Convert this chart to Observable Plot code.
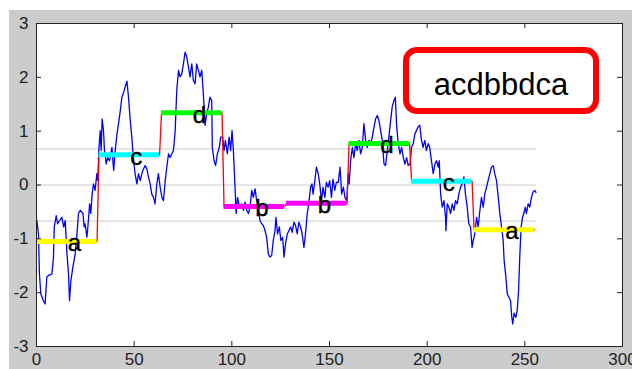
<!DOCTYPE html>
<html>
<head>
<meta charset="utf-8">
<script src="https://cdn.jsdelivr.net/npm/d3@7"></script>
<script src="https://cdn.jsdelivr.net/npm/@observablehq/plot@0.6"></script>
<style>
  html, body { margin: 0; padding: 0; background: white; }
  #wrap { position: relative; width: 632px; height: 369px; overflow: hidden; font-family: "Liberation Sans", Arial, sans-serif; }
  #bg { position: absolute; left: 9px; top: 10px; right: 0; bottom: 0; background: #cccccc; }
  #chart { position: absolute; left: 0; top: 0; }
  #word { position: absolute; left: 403px; top: 47px; width: 196px; height: 67px; box-sizing: border-box;
          border: 6px solid #ff0000; border-radius: 14px; background: white; text-align: center;
          font-size: 31px; padding-top: 8px; line-height: 47px; color: #000; }
</style>
</head>
<body>
<div id="wrap">
  <div id="bg"></div>
  <div id="chart"></div>
  <div id="word"></div>
</div>
<script>
// ---- data ----
const letters = ["a", "c", "d", "b", "b", "d", "c", "a"];
const paaValues = [-1.05, 0.56, 1.34, -0.40, -0.34, 0.77, 0.07, -0.83];
const segmentLength = 32;
const breakpoints = [-0.67, 0, 0.67];
const xTicks = [0, 50, 100, 150, 200, 250, 300];
const yTicks = [-3, -2, -1, 0, 1, 2, 3];
const wordLabel = "acdbbdca";
const seriesX = [
  0.2, 1.0, 1.5, 2.2, 3.5, 4.4, 5.3, 6.2, 7.9, 8.7, 9.1, 10.1, 10.8, 11.8, 13.0, 13.9, 14.7, 15.6, 16.4, 16.9,
  17.6, 18.6, 19.8, 20.7, 21.5, 22.4, 23.8, 24.4, 24.9, 25.8, 26.3, 27.2, 27.8, 28.5, 29.2, 30.0, 30.9, 31.4, 31.9, 32.6,
  33.1, 33.6, 34.3, 34.8, 35.7, 36.4, 37.4, 38.6, 39.5, 40.3, 41.2, 42.0, 42.9, 43.7, 44.6, 45.4, 46.3, 47.1, 48.0, 48.8,
  49.7, 50.5, 51.4, 52.2, 53.1, 54.4, 55.6, 56.5, 57.3, 58.2, 59.0, 59.9, 60.7, 61.6, 62.4, 63.3, 64.2, 65.0, 65.9, 66.7,
  67.6, 68.4, 69.3, 70.1, 71.0, 71.8, 72.7, 73.5, 74.4, 75.2, 76.1, 76.9, 77.8, 78.6, 79.5, 80.3, 81.2, 82.0, 82.9, 83.7,
  84.6, 85.4, 86.3, 87.1, 88.0, 88.8, 89.7, 90.0, 90.9, 91.7, 92.6, 93.6, 94.3, 95.3, 96.0, 96.7, 97.7, 98.6, 99.4, 100.1,
  100.8, 101.7, 102.2, 102.9, 103.9, 105.1, 105.9, 106.8, 107.6, 108.5, 109.3, 110.2, 111.0, 111.9, 112.7, 113.6, 114.4, 115.3, 116.1, 117.0,
  117.8, 118.7, 119.5, 120.4, 121.2, 122.1, 122.6, 123.4, 124.3, 125.1, 126.0, 126.7, 127.5, 128.4, 129.2, 130.1, 130.9, 131.8, 132.6, 133.5,
  134.3, 135.2, 136.0, 136.9, 137.7, 138.6, 139.4, 140.3, 141.0, 141.6, 142.5, 143.3, 144.2, 145.0, 145.9, 146.7, 147.6, 148.4, 149.3, 150.1,
  151.0, 151.8, 152.7, 153.5, 154.5, 155.4, 156.2, 157.1, 157.9, 158.8, 159.6, 160.1, 160.8, 161.7, 162.5, 163.4, 164.2, 165.1, 165.9, 166.8,
  167.6, 168.5, 169.3, 170.2, 171.1, 171.9, 172.8, 173.6, 174.5, 175.3, 176.2, 177.0, 177.9, 178.7, 179.6, 180.4, 181.3, 182.1, 183.0, 183.7,
  184.4, 185.2, 186.1, 186.9, 187.8, 188.6, 189.5, 190.3, 191.2, 192.0, 192.9, 193.7, 194.5, 195.4, 196.2, 197.1, 197.9, 198.8, 199.6, 200.5,
  201.3, 202.2, 203.1, 204.0, 204.8, 205.7, 206.2, 206.9, 207.7, 208.6, 209.4, 209.6, 210.3, 211.1, 212.0, 212.8, 213.7, 214.5, 215.4, 216.2,
  217.1, 217.9, 218.8, 219.6, 220.5, 221.3, 222.2, 223.0, 223.6, 224.4, 225.3, 226.1, 227.0, 227.8, 228.7, 229.5, 230.4, 231.2, 232.1, 232.9,
  233.8, 234.6, 235.5, 236.4, 237.2, 238.1, 238.9, 239.4, 240.3, 241.0, 241.8, 242.7, 243.3, 243.8, 244.5, 245.4, 246.1, 246.8, 247.4, 248.1,
  248.8, 249.5, 250.2, 250.8, 251.7, 252.5, 253.4, 254.2, 255.1, 255.7
];
const seriesY = [
  -0.66, -0.91, -1.65, -2.02, -2.15, -2.21, -1.71, -1.68, -1.65, -1.34, -0.78, -0.57, -0.72, -0.66, -0.60, -0.78, -0.66, -1.28, -1.65, -2.15,
  -1.78, -1.53, -1.28, -0.91, -0.53, -0.47, -0.53, -0.78, -0.72, -0.97, -0.78, -0.35, -0.53, -0.16, 0.02, -0.10, 0.21, 0.08, 0.64, 1.01,
  0.64, 1.23, 1.01, 0.64, 0.39, 0.51, 0.45, 0.70, 0.27, 0.64, 0.95, 1.14, 1.38, 1.63, 1.72, 1.82, 1.93, 1.63, 1.20, 0.89,
  0.45, 0.20, 0.02, 0.21, 0.08, 0.27, 0.36, 0.30, 0.15, 0.02, -0.17, -0.23, -0.35, 0.02, 0.21, -0.04, -0.23, -0.29, 0.08, 0.33,
  0.58, 0.51, 0.58, 0.64, 1.01, 1.76, 2.13, 2.01, 2.07, 2.25, 2.47, 2.38, 2.19, 2.01, 2.25, 1.94, 1.88, 2.25, 2.13, 2.01,
  2.13, 1.70, 1.11, 1.32, 1.45, 1.63, 1.57, 0.70, 0.45, 0.36, 0.58, 0.70, 0.89, 0.89, 0.64, 0.83, 0.58, 0.89, 0.64, 1.01,
  0.64, -0.10, -0.53, -0.23, -0.41, -0.35, -0.47, -0.32, -0.47, -0.53, -0.41, -0.10, -0.23, -0.07, -0.29, -0.41, -0.66, -0.72, -0.75, -0.85,
  -0.97, -1.28, -1.34, -1.31, -1.03, -0.85, -0.60, -0.91, -0.78, -1.03, -0.97, -1.34, -1.09, -0.91, -0.85, -0.78, -0.88, -0.69, -0.75, -0.91,
  -0.69, -0.78, -0.91, -1.16, -0.91, -0.53, -0.35, -0.04, 0.02, -0.17, 0.08, 0.33, 0.21, 0.02, -0.29, -0.04, -0.23, 0.05, -0.04, 0.08,
  -0.23, 0.11, -0.10, 0.05, 0.05, 0.33, -0.17, -0.04, -0.23, -0.29, 0.21, 0.02, 0.45, 0.70, 0.51, 0.77, 0.64, 0.83, 0.58, 0.70,
  1.14, 0.83, 0.70, 0.83, 0.77, 0.89, 1.08, 1.23, 1.29, 1.20, 1.01, 0.83, 0.39, 0.36, 0.64, 0.89, 1.20, 1.45, 1.57, 1.63,
  1.08, 0.77, 0.58, 0.70, 0.51, 0.39, 0.51, 0.36, 0.39, 0.70, 0.77, 0.95, 1.01, 1.08, 1.11, 0.83, 0.70, 0.83, 0.64, 0.77,
  0.70, 0.45, 0.21, 0.39, 0.45, 0.33, 0.45, -0.17, -0.41, -0.29, -0.60, -0.85, -0.35, -0.41, -0.53, -0.35, -0.47, -0.29, -0.35, -0.17,
  -0.04, 0.02, 0.15, -0.17, -0.41, -0.72, -0.78, -1.16, -1.03, -0.91, -0.60, -0.78, -0.47, -0.23, -0.41, -0.17, -0.04, 0.08, 0.21, 0.33,
  0.36, 0.21, 0.08, -0.23, -0.53, -0.78, -1.03, -1.40, -1.71, -2.02, -2.08, -2.15, -2.45, -2.58, -2.38, -2.46, -2.33, -1.96, -1.34, -0.78,
  -0.60, -0.53, -0.41, -0.53, -0.35, -0.41, -0.23, -0.13, -0.10, -0.14
];

// ---- derived tables ----
const series = seriesX.map((x, i) => ({x, y: seriesY[i]}));
const segments = letters.map((letter, i) => ({
  letter,
  start: i * segmentLength,
  end: i * segmentLength + segmentLength - 1,
  mid: i * segmentLength + segmentLength / 2,
  value: paaValues[i]
}));
const stepPoints = segments.flatMap(s => [{x: s.start, y: s.value}, {x: s.end, y: s.value}]);
const letterColor = {a: "#ffff00", b: "#ff00ff", c: "#00ffff", d: "#00ff00"};

const W = 632, H = 369;
const mL = 36, mR = 10, mT = 23, mB = 23;
const frameW = W - mL - mR, frameH = H - mT - mB;
const tick = 5;

const chart = Plot.plot({
  width: W,
  height: H,
  marginLeft: mL,
  marginRight: mR,
  marginTop: mT,
  marginBottom: mB,
  style: {background: "transparent", fontFamily: "'Liberation Sans', Arial, sans-serif", overflow: "visible"},
  x: {domain: [0, 300]},
  y: {domain: [-3, 3]},
  marks: [
    Plot.frame({fill: "white"}),
    Plot.ruleY(breakpoints, {y: d => d, x1: 0, x2: 256, stroke: "#cccccc", strokeWidth: 1}),
    Plot.line(series, {x: "x", y: "y", stroke: "#0000ff", strokeWidth: 1.3}),
    Plot.line(stepPoints, {x: "x", y: "y", stroke: "#ff0000", strokeWidth: 1.3}),
    Plot.ruleY(segments, {y: "value", x1: "start", x2: "end", stroke: d => letterColor[d.letter], strokeWidth: 5}),
    Plot.text(segments, {x: "mid", y: "value", text: "letter", textAnchor: "start", fontSize: 24, dy: 2, fill: "black", stroke: "black", strokeWidth: 0.4}),
    Plot.frame({stroke: "#222"}),
    Plot.tickX(xTicks, {x: d => d, insetTop: frameH - tick, stroke: "#222"}),
    Plot.tickX(xTicks, {x: d => d, insetBottom: frameH - tick, stroke: "#222"}),
    Plot.tickY(yTicks, {y: d => d, insetRight: frameW - tick, stroke: "#222"}),
    Plot.tickY(yTicks, {y: d => d, insetLeft: frameW - tick, stroke: "#222"}),
    Plot.axisX({ticks: xTicks, tickSize: 0, tickPadding: 6, tickFormat: d => String(d), label: null, fontSize: 17, color: "#222"}),
    Plot.axisY({ticks: yTicks, tickSize: 0, tickPadding: 8, tickFormat: d => String(d), label: null, fontSize: 17, color: "#222"})
  ]
});
document.getElementById("chart").appendChild(chart);
document.getElementById("word").textContent = wordLabel;
</script>
</body>
</html>
